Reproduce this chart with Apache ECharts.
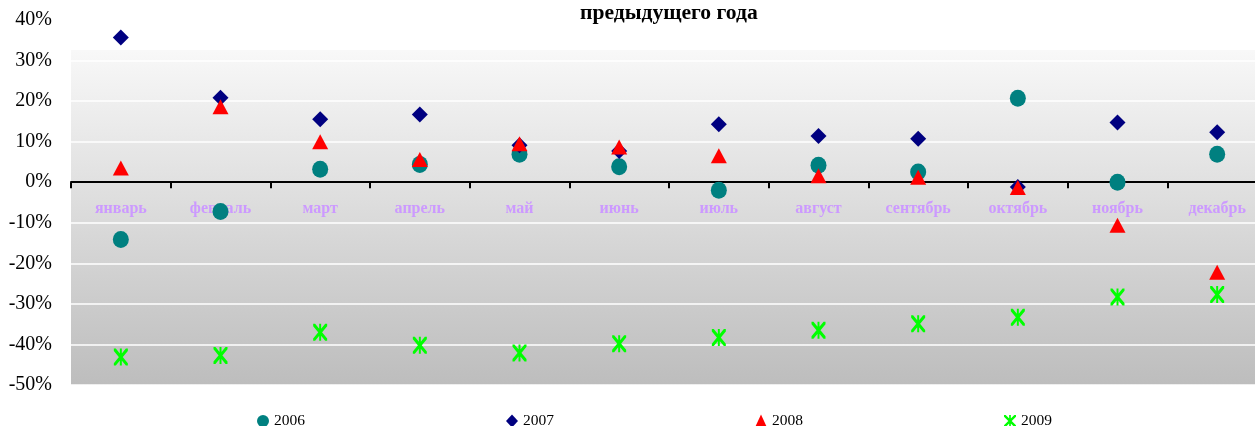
<!DOCTYPE html>
<html>
<head>
<meta charset="utf-8">
<script src="https://cdn.jsdelivr.net/npm/echarts@6/dist/echarts.min.js"></script>
<style>
html,body{margin:0;padding:0;background:#fff;overflow:hidden;}
#chart{width:1267px;height:426px;}
</style>
</head>
<body>
<div id="chart"></div>
<script>
var categories = ['январь','февраль','март','апрель','май','июнь','июль','август','сентябрь','октябрь','ноябрь','декабрь'];
var seriesNames = ['2006','2007','2008','2009'];
var s2006 = [-14.1,-7.2,3.2,4.4,6.9,3.8,-2.0,4.2,2.5,20.7,0,6.9];
var s2007 = [35.7,20.8,15.5,16.7,9.1,7.7,14.3,11.4,10.7,-1.2,14.7,12.3];
var s2008 = [3.5,18.6,10.0,5.6,9.5,8.7,6.5,1.6,1.2,-1.3,-10.6,-22.2];
var s2009 = [-43.1,-42.7,-37.0,-40.2,-42.1,-39.8,-38.3,-36.5,-34.9,-33.3,-28.3,-27.7];
var yMin = -50, yMax = 40, yStep = 10;
var titleText = 'предыдущего года';

var asterisk = 'path://M0,0L14,0L100,86L100,100L86,100L0,14Z M100,0L100,14L14,100L0,100L0,86L86,0Z M43,0L57,0L57,100L43,100Z';
var serif = 'Liberation Serif';

var chart = echarts.init(document.getElementById('chart'));
chart.setOption({
  animation: false,
  title: {
    text: titleText,
    left: 580, top: 2, padding: 0,
    textStyle: {fontFamily: serif, fontWeight: 'bold', fontSize: 21.6, color: '#000'}
  },
  legend: {
    left: 257, top: 413, padding: 0,
    itemWidth: 12, itemHeight: 13, itemGap: 201,
    textStyle: {fontFamily: serif, fontSize: 15.5, color: '#000'},
    data: [
      {name: seriesNames[0], icon: 'circle'},
      {name: seriesNames[1], icon: 'diamond'},
      {name: seriesNames[2], icon: 'triangle'},
      {name: seriesNames[3], icon: asterisk}
    ]
  },
  grid: {
    left: 71, right: 0, top: 20, bottom: 41,
    show: true, borderWidth: 0,
    backgroundColor: new echarts.graphic.LinearGradient(0, 0, 0, 1, [
      {offset: 0, color: '#ffffff'},
      {offset: 0.082, color: '#ffffff'},
      {offset: 0.083, color: '#f8f8f8'},
      {offset: 1, color: '#bdbdbd'}
    ])
  },
  xAxis: {
    type: 'category',
    data: categories,
    boundaryGap: true,
    axisLine: {onZero: true, lineStyle: {color: '#000', width: 2}},
    axisTick: {show: true, length: 6, lineStyle: {color: '#000', width: 2}},
    axisLabel: {margin: -184, fontFamily: serif, fontWeight: 'bold', fontSize: 16, color: '#cc99ff'},
    splitLine: {show: false}
  },
  yAxis: {
    type: 'value',
    min: yMin, max: yMax, interval: yStep,
    axisLine: {show: false},
    axisTick: {show: false},
    axisLabel: {formatter: '{value}%', margin: 19, fontFamily: serif, fontSize: 20, color: '#000'},
    splitLine: {show: true, lineStyle: {color: '#ffffff', width: 1.5}}
  },
  series: [
    {name: seriesNames[0], type: 'scatter', data: s2006, symbol: 'circle', symbolSize: [16,17], itemStyle: {color: '#008080', opacity: 1}},
    {name: seriesNames[1], type: 'scatter', data: s2007, symbol: 'diamond', symbolSize: [16,16], itemStyle: {color: '#000080', opacity: 1}},
    {name: seriesNames[2], type: 'scatter', data: s2008, symbol: 'triangle', symbolSize: [16,15], itemStyle: {color: '#ff0000', opacity: 1}},
    {name: seriesNames[3], type: 'scatter', data: s2009, symbol: asterisk, symbolSize: [14,17], itemStyle: {color: '#00ff00', opacity: 1}}
  ]
});
</script>
</body>
</html>
